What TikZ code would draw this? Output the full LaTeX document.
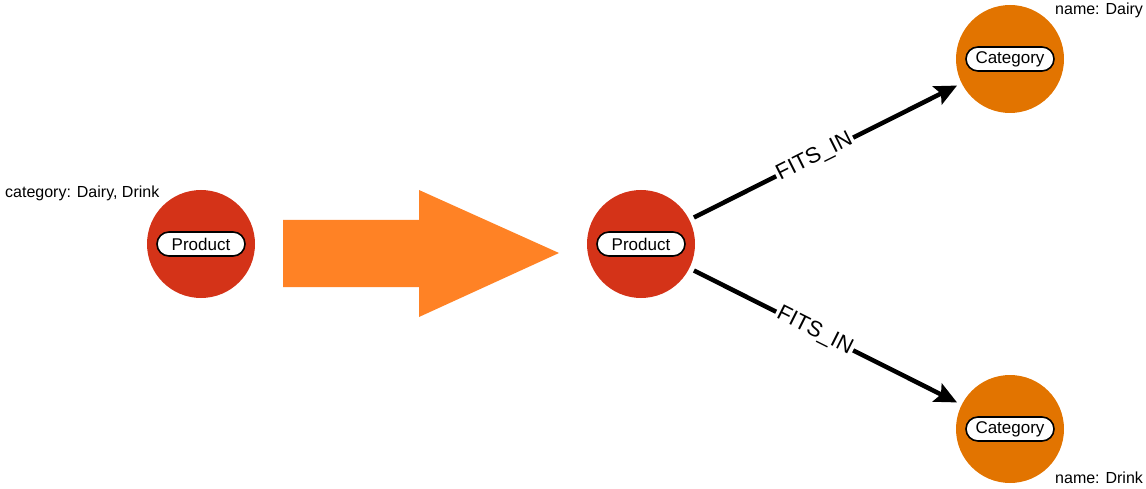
\documentclass[tikz,border=0pt]{standalone}
\usepackage{fontspec}
\setmainfont{Liberation Sans}
\usetikzlibrary{arrows.meta}
\definecolor{prodred}{RGB}{212,51,24}
\definecolor{catorange}{RGB}{226,116,0}
\definecolor{bigorange}{RGB}{255,130,37}

\begin{document}
\begin{tikzpicture}[x=1pt,y=-1pt,
  product/.style={circle,fill=prodred,minimum size=108pt,inner sep=0pt},
  category/.style={circle,fill=catorange,minimum size=108pt,inner sep=0pt},
  pill/.style={draw=black,line width=1.6pt,fill=white,rounded corners=12pt,
    minimum width=88pt,minimum height=24pt,inner sep=0pt,
    font=\fontsize{17}{18}\selectfont},
  prop/.style={inner sep=0pt,anchor=base west,font=\fontsize{16}{18}\selectfont},
  rel/.style={line width=4.5pt,-{Stealth[length=22pt,width=20pt,inset=4pt]},
    shorten <=5pt,shorten >=5pt},
  relname/.style={sloped,fill=white,inner sep=2pt,font=\fontsize{22}{26}\selectfont}
]
\useasboundingbox (0,0) rectangle (1146,489);

% Before: one product with a list property
\node[product] (prodA) at (201,244) {};
\node[pill] (prodA-tag) at (prodA) {Product};
\node[prop] (prodA-prop) at (5,198) {category: Dairy, Drink};

% Transformation arrow
\fill[bigorange] (283,220) -- (419,220) -- (419,190) -- (559,253)
  -- (419,317) -- (419,287) -- (283,287) -- cycle;

% After: product linked to category nodes
\node[product] (prodB) at (641,244) {};
\node[pill] (prodB-tag) at (prodB) {Product};

\node[category] (catDairy) at (1010,59) {};
\node[pill] (catDairy-tag) at (catDairy) {Category};
\node[prop] (catDairy-prop) at (1055,15) {name: Dairy};

\node[category] (catDrink) at (1010,429) {};
\node[pill] (catDrink-tag) at (catDrink) {Category};
\node[prop] (catDrink-prop) at (1055,483) {name: Drink};

\draw[rel] (prodB) -- node[relname, pos=0.46] {FITS\_IN} (catDairy);
\draw[rel] (prodB) -- node[relname, pos=0.46] {FITS\_IN} (catDrink);
\end{tikzpicture}
\end{document}
